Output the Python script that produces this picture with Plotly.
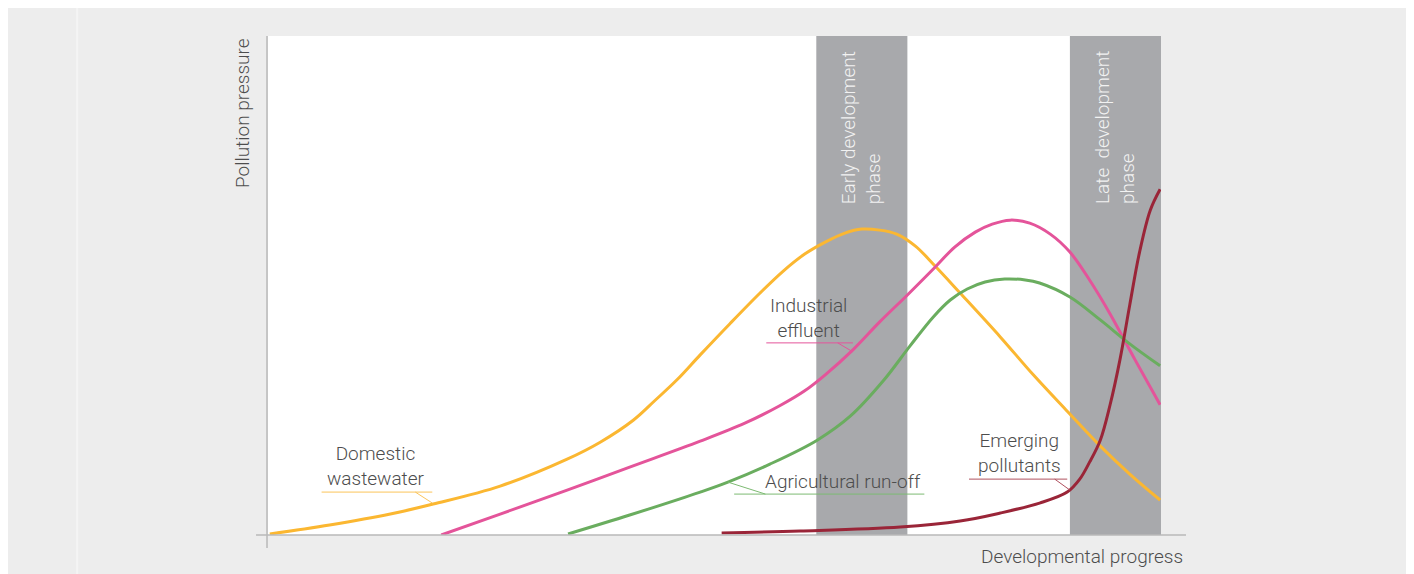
import plotly.graph_objects as go

# Curves (x: developmental progress 0-100, y: pollution pressure 0-100)
domestic_x = [0.2, 6.9, 13.7, 18.5, 26.0, 33.5, 37.2, 40.9, 43.3, 45.8, 48.4, 51.7, 55.1, 57.7, 60.1,
              62.4, 64.6, 66.5, 68.5, 70.4, 72.5, 74.7, 77.5, 82.0, 85.7, 89.5, 93.2, 96.5, 99.9]
domestic_y = [0.2, 2.0, 4.2, 6.2, 9.8, 15.2, 18.6, 23.0, 26.9, 31.1, 36.1, 42.3, 48.5, 52.9, 56.3,
              58.7, 60.5, 61.3, 61.1, 60.3, 57.9, 53.9, 48.5, 39.7, 32.1, 24.8, 17.8, 12.2, 7.0]

industrial_x = [19.4, 26.0, 33.5, 40.5, 48.4, 53.4, 57.3, 60.1, 62.4, 65.5, 68.5, 71.6, 74.5, 76.9,
                79.2, 81.1, 83.1, 85.3, 87.6, 89.8, 92.0, 94.3, 97.1, 99.9]
industrial_y = [0.0, 4.2, 9.0, 13.6, 18.8, 22.4, 25.9, 28.9, 32.1, 37.1, 42.7, 48.1, 53.3, 57.7,
                60.7, 62.3, 63.1, 62.5, 60.3, 56.7, 51.1, 44.3, 35.1, 26.1]

agri_x = [33.6, 40.5, 48.4, 51.5, 56.2, 61.5, 65.2, 68.9, 71.9, 74.5, 76.4, 78.3, 80.3, 82.5, 84.8,
          86.4, 89.8, 93.2, 96.5, 99.9]
agri_y = [0.2, 4.0, 8.6, 10.6, 14.2, 19.0, 23.8, 30.9, 37.9, 43.7, 47.1, 49.3, 50.7, 51.3, 51.1,
          50.5, 47.7, 43.1, 38.3, 33.9]

emerging_x = [50.8, 59.6, 70.8, 77.5, 82.0, 86.4, 89.5, 90.9, 92.0, 93.2, 94.3, 95.4, 96.5, 97.6, 98.8, 99.9]
emerging_y = [0.4, 0.8, 1.6, 2.8, 4.4, 6.4, 8.6, 11.2, 14.6, 19.0, 26.1, 35.1, 46.1, 56.7, 65.1, 69.3]

phase_names = ["Early development<br>phase", "Late\u00a0\u00a0development<br>phase"]
phase_start = [61.4, 89.8]
phase_end = [71.6, 100.0]

TEXT = "#4d4d4d"
FONT = "Roboto"

series = [
    ("Domestic wastewater", domestic_x, domestic_y, "#fbb731"),
    ("Industrial effluent", industrial_x, industrial_y, "#e4549a"),
    ("Agricultural run-off", agri_x, agri_y, "#6aad5f"),
    ("Emerging pollutants", emerging_x, emerging_y, "#9a2538"),
]

fig = go.Figure()
for name, xs, ys, color in series:
    fig.add_trace(go.Scatter(
        x=xs, y=ys, mode="lines", name=name,
        line=dict(color=color, width=3, shape="spline", smoothing=1.0),
        hoverinfo="skip",
    ))

shapes = []
# phase bands
for x0, x1 in zip(phase_start, phase_end):
    shapes.append(dict(type="rect", xref="x", yref="y", x0=x0, x1=x1, y0=0, y1=100,
                       fillcolor="#a8a9ac", line=dict(width=0), layer="below"))

# faint divider in the grey panel
shapes.append(dict(type="line", xref="paper", yref="paper", x0=-0.2138, x1=-0.2138, y0=-0.1, y1=1.06,
                   line=dict(color="#f4f4f4", width=2)))

# axis lines
shapes += [
    dict(type="line", xref="paper", yref="paper", x0=-0.0011, x1=-0.0011, y0=-0.026, y1=1.0,
         line=dict(color="#b9b9b9", width=1.5)),
    dict(type="line", xref="paper", yref="paper", x0=-0.0134, x1=1.028, y0=0, y1=0,
         line=dict(color="#b9b9b9", width=1.5)),
]

# label leader lines: (underline x0, x1, y), (connector from, to), colour
leaders = [
    ((6.0, 18.4, 8.6), ((16.5, 8.6), (18.4, 6.4)), "#fbc45a"),
    ((55.8, 65.5, 38.5), ((63.8, 38.5), (65.5, 36.7)), "#e4549a"),
    ((52.2, 73.5, 8.2), ((55.7, 8.2), (51.5, 10.6)), "#7dba72"),
    ((78.5, 89.5, 11.2), ((88.1, 11.2), (89.8, 9.0)), "#b0505e"),
]
for (ux0, ux1, uy), ((cx0, cy0), (cx1, cy1)), color in leaders:
    shapes.append(dict(type="line", xref="x", yref="y", x0=ux0, x1=ux1, y0=uy, y1=uy,
                       line=dict(color=color, width=1)))
    shapes.append(dict(type="line", xref="x", yref="y", x0=cx0, x1=cx1, y0=cy0, y1=cy1,
                       line=dict(color=color, width=1)))

annotations = [
    dict(text="Domestic<br>wastewater", x=12.1, y=13.8),
    dict(text="Industrial<br>effluent", x=60.5, y=43.5),
    dict(text="Agricultural run-off", x=64.4, y=10.8),
    dict(text="Emerging<br>pollutants", x=84.2, y=16.4),
]
for a in annotations:
    a.update(xref="x", yref="y", showarrow=False, xanchor="center", yanchor="middle",
             font=dict(family=FONT, size=19, color=TEXT, weight=300))

for name, x0, x1 in zip(phase_names, phase_start, phase_end):
    annotations.append(dict(
        text=name, x=(x0 + x1) / 2, y=97.4, xref="x", yref="y", showarrow=False,
        textangle=-90, xanchor="center", yanchor="top", align="left",
        font=dict(family=FONT, size=19, color="#f2f2f2", weight=300),
    ))

annotations += [
    dict(text="Pollution pressure", xref="paper", yref="paper", x=-0.029, y=1.0,
         xanchor="center", yanchor="top", textangle=-90, showarrow=False,
         font=dict(family=FONT, size=19, color=TEXT, weight=300)),
    dict(text="Developmental progress", xref="paper", yref="paper", x=1.027, y=-0.044,
         xanchor="right", yanchor="middle", showarrow=False,
         font=dict(family=FONT, size=19, color=TEXT, weight=300)),
]

fig.update_layout(
    width=1400, height=566,
    margin=dict(l=260, r=247, t=28, b=39),
    paper_bgcolor="#ededed",
    plot_bgcolor="white",
    showlegend=False,
    xaxis=dict(range=[0, 100], visible=False, fixedrange=True),
    yaxis=dict(range=[0, 100], visible=False, fixedrange=True),
    shapes=shapes,
    annotations=annotations,
)

fig.write_html("out.html", config={"displayModeBar": False})
